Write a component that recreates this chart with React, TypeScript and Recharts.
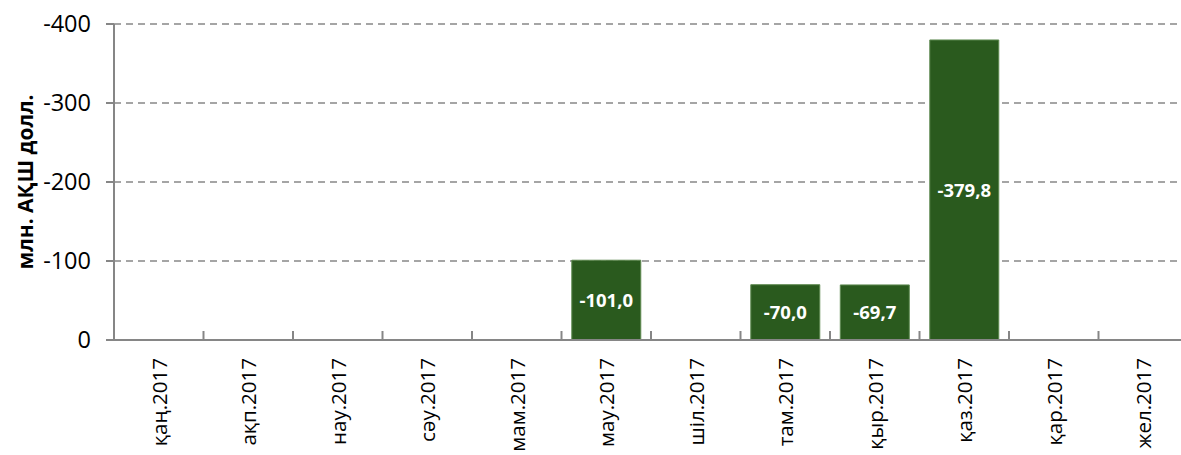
import React from 'react';
import { BarChart, Bar, XAxis, YAxis, CartesianGrid, LabelList } from 'recharts';

const months = ['қаң.2017', 'ақп.2017', 'нау.2017', 'сәу.2017', 'мам.2017', 'мау.2017', 'шіл.2017', 'там.2017', 'қыр.2017', 'қаз.2017', 'қар.2017', 'жел.2017'];
const values: (number | null)[] = [null, null, null, null, null, -101.0, null, -70.0, -69.7, -379.8, null, null];
const yTicks = [-400, -300, -200, -100, 0];
const yLabel = 'млн. АҚШ долл.';

const data = months.map((m, i) => ({ month: m, value: values[i] }));

const CHART_W = 1190;
const CHART_H = 455;
const Y_W = 114;
const MARGIN = { top: 24, right: 2, left: 0, bottom: 0 };
const PLOT_W = CHART_W - Y_W - MARGIN.left - MARGIN.right;
const BW = PLOT_W / months.length;
const FONT = '"Open Sans", "Noto Sans", sans-serif';
const AXIS_COLOR = '#868686';

const XTick = (props: any) => {
  const { x, y, payload } = props;
  return (
    <g>
      <line x1={x - BW / 2} x2={x - BW / 2} y1={y - 9} y2={y} stroke={AXIS_COLOR} strokeWidth={2} />
      <text
        transform={`translate(${x},${y + 18}) rotate(-90)`}
        textAnchor="end"
        dominantBaseline="central"
        fontFamily={FONT}
        fontSize={20.5}
        fill="#000"
      >
        {payload.value}
      </text>
    </g>
  );
};

const YLabel = (props: any) => {
  const vb = props.viewBox || {};
  const cx = (vb.x ?? 0) + 25;
  const cy = (vb.y ?? 0) + (vb.height ?? 0) / 2;
  return (
    <text
      transform={`translate(${cx},${cy}) rotate(-90)`}
      textAnchor="middle"
      dominantBaseline="central"
      fontFamily={FONT}
      fontWeight="bold"
      fontSize={21}
      fill="#000"
    >
      {yLabel}
    </text>
  );
};

const fmt = (v: any) => (v == null ? '' : Number(v).toFixed(1).replace('.', ','));

export default function App() {
  return (
    <div style={{ position: 'absolute', left: 0, top: 0, width: 1181, height: 455, overflow: 'hidden', background: '#fff' }}>
      <BarChart width={CHART_W} height={CHART_H} data={data} margin={MARGIN} barCategoryGap="11.5%">
        <CartesianGrid horizontal vertical={false} stroke="#888" strokeWidth={1.5} strokeDasharray="7 5" />
        <XAxis
          dataKey="month"
          height={CHART_H - MARGIN.top - 316}
          tick={<XTick />}
          tickLine={false}
          tickSize={0}
          tickMargin={0}
          axisLine={{ stroke: AXIS_COLOR, strokeWidth: 2 }}
          interval={0}
        />
        <YAxis
          width={Y_W}
          domain={[-400, 0]}
          ticks={yTicks}
          reversed
          interval={0}
          tickSize={8}
          tickMargin={15}
          tickLine={{ stroke: AXIS_COLOR, strokeWidth: 2 }}
          axisLine={{ stroke: AXIS_COLOR, strokeWidth: 2 }}
          tick={{ fill: '#000', fontSize: 23.5, fontFamily: FONT }}
          label={<YLabel />}
        />
        <Bar dataKey="value" fill="#2A5A1E" stroke="#5F8A52" strokeWidth={1} isAnimationActive={false}>
          <LabelList dataKey="value" position="center" formatter={fmt} fill="#fff" fontWeight="bold" fontSize={18.5} fontFamily={FONT} />
        </Bar>
      </BarChart>
    </div>
  );
}
